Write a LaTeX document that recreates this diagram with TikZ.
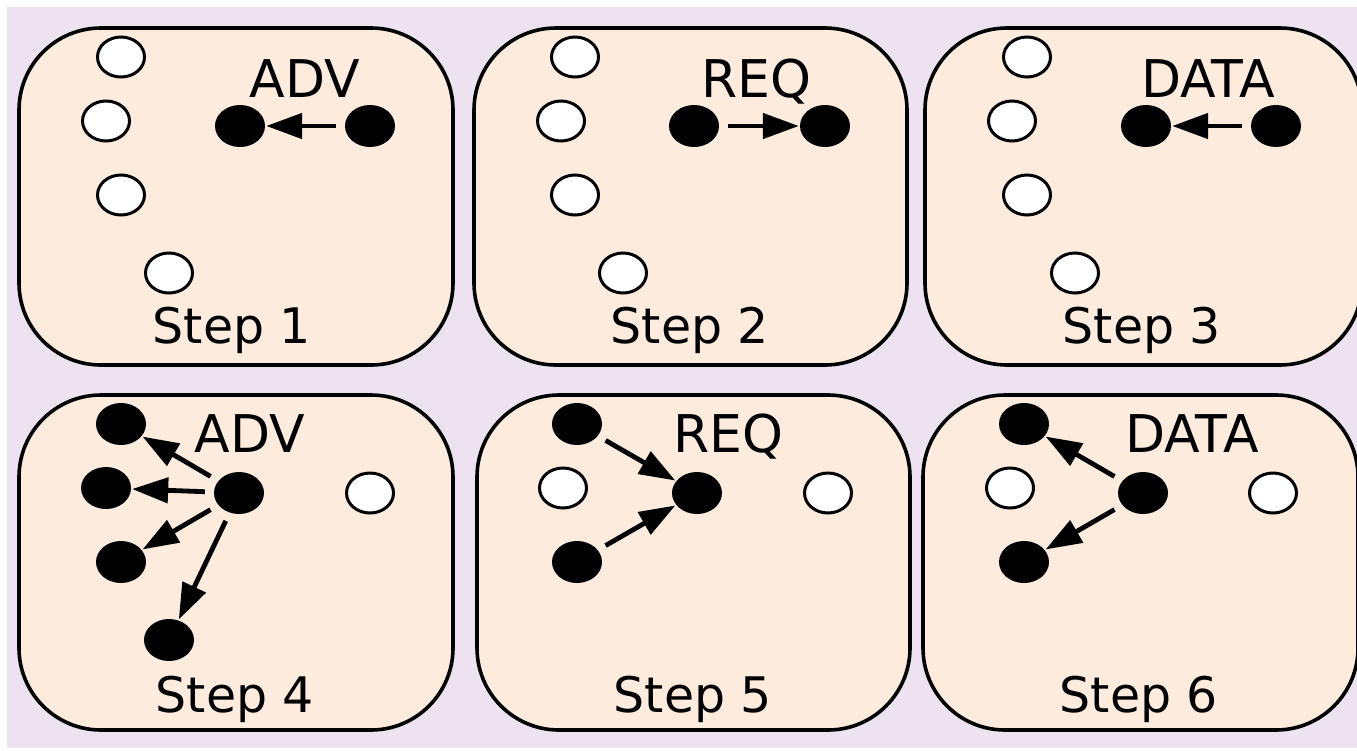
\documentclass[tikz,border=0pt]{standalone}
\usepackage{fontspec}
\setmainfont{DejaVu Sans}
\usetikzlibrary{shapes.geometric,arrows.meta}
\definecolor{lav}{RGB}{237,227,240}
\definecolor{peach}{RGB}{253,235,222}
\tikzset{
  panel/.style={draw=black,line width=3.6pt,fill=peach,rounded corners=82pt},
  wnode/.style={ellipse,draw=black,line width=3pt,fill=white,minimum width=47pt,minimum height=40pt,inner sep=0pt},
  bnode/.style={ellipse,fill=black,minimum width=50pt,minimum height=42pt,inner sep=0pt},
  msg/.style={anchor=base,inner sep=0pt,font=\fontsize{52}{52}\selectfont},
  steplabel/.style={anchor=base,inner sep=0pt,font=\fontsize{49}{49}\selectfont},
  flow/.style={line width=4.8pt,-{Triangle[length=36pt,width=25pt]},shorten <=9pt,shorten >=1pt}
}
\begin{document}
\begin{tikzpicture}[x=1pt,y=-1pt]
\useasboundingbox (0,0) rectangle (1357,750);
\fill[white] (0,0) rectangle (1357,750);
\fill[lav] (7,7) rectangle (1357,748);
% panels
\draw[panel] (19,28) rectangle (453,365);
\draw[panel] (474,28) rectangle (907,365);
\draw[panel] (925,28) rectangle (1362,365);
\draw[panel] (19,395) rectangle (453,730);
\draw[panel] (477,395) rectangle (910,730);
\draw[panel] (923,395) rectangle (1358,730);
% Step 1
\node[wnode] (a1) at (121,57) {};
\node[wnode] (a2) at (106,121) {};
\node[wnode] (a3) at (121,195) {};
\node[wnode] (a4) at (169,273) {};
\node[bnode] (a5) at (240,126) {};
\node[bnode] (a6) at (370,126) {};
\node[msg] (al) at (305,97) {ADV};
\node[steplabel] (as) at (232,343) {Step 1};
\draw[flow] (a6) -- (a5);
% Step 2
\node[wnode] (b1) at (575,57) {};
\node[wnode] (b2) at (561,121) {};
\node[wnode] (b3) at (575,195) {};
\node[wnode] (b4) at (623,273) {};
\node[bnode] (b5) at (694,126) {};
\node[bnode] (b6) at (825,126) {};
\node[msg] (bl) at (756,97) {REQ};
\node[steplabel] (bs) at (690,343) {Step 2};
\draw[flow] (b5) -- (b6);
% Step 3
\node[wnode] (c1) at (1027,57) {};
\node[wnode] (c2) at (1012,121) {};
\node[wnode] (c3) at (1027,195) {};
\node[wnode] (c4) at (1075,273) {};
\node[bnode] (c5) at (1146,126) {};
\node[bnode] (c6) at (1276,126) {};
\node[msg] (cl) at (1208,97) {DATA};
\node[steplabel] (cs) at (1142,343) {Step 3};
\draw[flow] (c6) -- (c5);
% Step 4
\node[bnode] (d1) at (121,424) {};
\node[bnode] (d2) at (106,488) {};
\node[bnode] (d3) at (121,562) {};
\node[bnode] (d4) at (169,640) {};
\node[bnode] (d5) at (239,493) {};
\node[wnode] (d6) at (370,493) {};
\node[msg] (dl) at (250,452) {ADV};
\node[steplabel] (ds) at (235,712) {Step 4};
\draw[flow] (d5) -- (d1);
\draw[flow] (d5) -- (d2);
\draw[flow] (d5) -- (d3);
\draw[flow] (d5) -- (d4);
% Step 5
\node[bnode] (e1) at (577,424) {};
\node[wnode] (e2) at (563,488) {};
\node[bnode] (e3) at (577,562) {};
\node[bnode] (e5) at (697,493) {};
\node[wnode] (e6) at (828,493) {};
\node[msg] (el) at (728,452) {REQ};
\node[steplabel] (es) at (693,712) {Step 5};
\draw[flow] (e1) -- (e5);
\draw[flow] (e3) -- (e5);
% Step 6
\node[bnode] (f1) at (1024,424) {};
\node[wnode] (f2) at (1010,488) {};
\node[bnode] (f3) at (1024,562) {};
\node[bnode] (f5) at (1143,493) {};
\node[wnode] (f6) at (1273,493) {};
\node[msg] (fl) at (1192,452) {DATA};
\node[steplabel] (fs) at (1139,712) {Step 6};
\draw[flow] (f5) -- (f1);
\draw[flow] (f5) -- (f3);
\end{tikzpicture}
\end{document}
